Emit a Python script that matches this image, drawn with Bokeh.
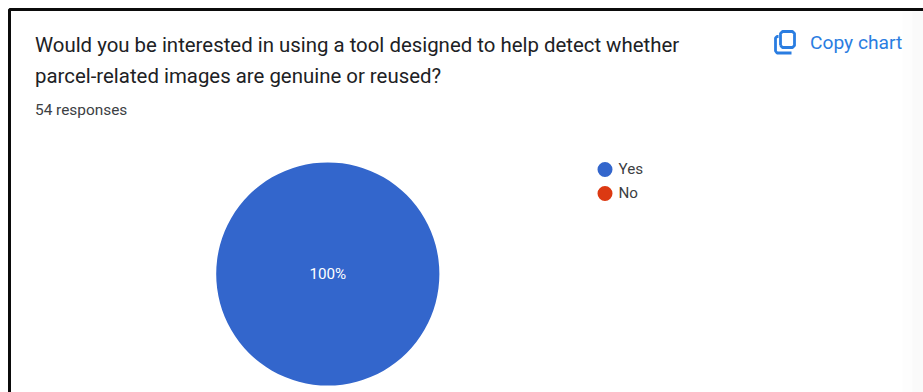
import math

from bokeh.core.properties import value
from bokeh.embed import file_html
from bokeh.models import ColumnDataSource, Range1d
from bokeh.plotting import figure
from bokeh.resources import INLINE

# Survey answers
categories = ["Yes", "No"]
responses = [54, 0]
slice_colors = ["#3366cc", "#dc3912"]
question_lines = [
    "Would you be interested in using a tool designed to help detect whether",
    "parcel-related images are genuine or reused?",
]
response_note = "54 responses"
copy_label = "Copy chart"
pie_label = "100%"

W, H = 923, 392
FONT = value("Roboto")
INK = "#202124"

p = figure(
    width=W, height=H, output_backend="svg", toolbar_location=None,
    x_range=Range1d(0, W), y_range=Range1d(H, 0),
    min_border=0, outline_line_color=None, background_fill_color="white",
    border_fill_color="white",
)
p.axis.visible = False
p.grid.visible = False

# Card frame: heavy rule along the top and left edges
p.line([9, 9, W], [H, 9, 9], line_color="#0b0b0b", line_width=3)

# Faint shade fading in at the right edge
for x0, shade in [(902, "#fdfdfd"), (912, "#fafafa")]:
    p.quad(left=x0, right=W, top=11, bottom=H, fill_color=shade, line_color=None)

# Heading
p.text([34.5, 34.5], [44, 75], text=question_lines, text_font=FONT, text_font_size="20.4px",
       text_color=INK, text_baseline="middle")
p.text([34.5], [109], text=[response_note], text_font=FONT, text_font_size="15.4px",
       text_color="#3c4043", text_baseline="middle")

# Copy button: outlined page with a second page behind it
BLUE = "#2a7de1"
p.multi_line(
    [[778, 776.5, 775, 775, 776.5, 791], [780, 780, 782, 792, 794, 794, 792, 782, 780]],
    [[36, 36, 37.5, 50.5, 52.5, 52.5], [45, 33, 31, 31, 33, 45, 47, 47, 45]],
    line_color=BLUE, line_width=2.8,
)
p.text([809.5], [41.5], text=[copy_label], text_font=FONT, text_font_size="19.2px",
       text_color=BLUE, text_baseline="middle")

# Pie, turning clockwise from twelve o'clock (the y range runs downward).
# Empty answers get no slice, only a legend entry; a sweep of exactly one
# turn collapses to nothing in the renderer, so it stops a hair short.
total = sum(responses)
rows = dict(cat=[], start=[], end=[], color=[])
running = 0.0
for cat, v, col in zip(categories, responses, slice_colors):
    a0 = -math.pi / 2 + running * 2 * math.pi / total
    running += v
    if v > 0:
        sweep = min(v / total * 2 * math.pi, 2 * math.pi - 1e-4)
        rows["cat"].append(cat)
        rows["start"].append(a0)
        rows["end"].append(a0 + sweep)
        rows["color"].append(col)
src = ColumnDataSource(rows)
p.wedge(x=327.3, y=273.5, radius=111.6, start_angle="start", end_angle="end",
        direction="anticlock", fill_color="color", line_color=None, source=src)
p.text([327.3], [273], text=[pie_label], text_font=FONT, text_font_size="15.2px",
       text_color="white", text_align="center", text_baseline="middle")

# Legend
for cat, col, y in zip(categories, slice_colors, [169, 193]):
    p.scatter([604.5], [y], size=15, marker="circle", fill_color=col, line_color=None)
    p.text([618], [y - 0.5], text=[cat], text_font=FONT, text_font_size="15.2px",
           text_color="#3c4043", text_baseline="middle")

open("out.html", "w").write(file_html(p, INLINE))
